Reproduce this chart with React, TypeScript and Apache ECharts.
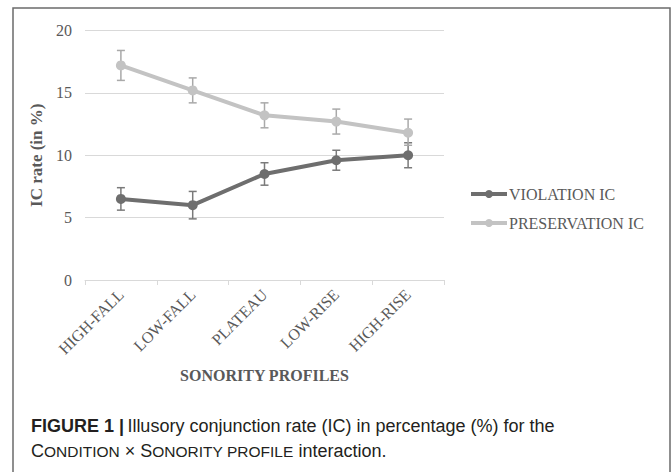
import React, { useEffect, useRef } from "react";
import * as echarts from "echarts";

const categories = ["HIGH-FALL", "LOW-FALL", "PLATEAU", "LOW-RISE", "HIGH-RISE"];
const violation = [6.5, 6.0, 8.5, 9.6, 10.0];
const violationLow = [5.6, 4.9, 7.6, 8.8, 9.0];
const violationHigh = [7.4, 7.1, 9.4, 10.4, 11.0];
const preservation = [17.2, 15.2, 13.2, 12.7, 11.8];
const preservationLow = [16.0, 14.2, 12.2, 11.7, 10.8];
const preservationHigh = [18.4, 16.2, 14.2, 13.7, 12.9];
const yTicks = { min: 0, max: 20, interval: 5 };

const SERIF = "'Liberation Serif', 'Times New Roman', serif";
const SANS = "'Liberation Sans', Arial, sans-serif";

function errorSeries(name: string, lows: number[], highs: number[], color: string) {
  return {
    type: "custom",
    name,
    z: 1,
    silent: true,
    data: lows.map((l, i) => [i, l, highs[i]]),
    encode: { x: 0, y: [1, 2] },
    renderItem: (params: any, api: any) => {
      const x = api.value(0);
      const lo = api.coord([x, api.value(1)]);
      const hi = api.coord([x, api.value(2)]);
      const w = 4;
      const style = { stroke: color, lineWidth: 1.5 };
      return {
        type: "group",
        children: [
          { type: "line", shape: { x1: lo[0], y1: lo[1], x2: hi[0], y2: hi[1] }, style },
          { type: "line", shape: { x1: lo[0] - w, y1: lo[1], x2: lo[0] + w, y2: lo[1] }, style },
          { type: "line", shape: { x1: hi[0] - w, y1: hi[1], x2: hi[0] + w, y2: hi[1] }, style },
        ],
      };
    },
  };
}

export default function App() {
  const ref = useRef<HTMLDivElement>(null);
  useEffect(() => {
    if (!ref.current) return;
    const chart = echarts.init(ref.current, undefined, { renderer: "svg" });
    chart.setOption({
      animation: false,
      backgroundColor: "#ffffff",
      grid: { left: 85, right: 228, top: 30.5, bottom: 192 },
      legend: {
        orient: "vertical",
        left: 469,
        top: 186,
        padding: 0,
        itemWidth: 36,
        itemHeight: 10,
        itemGap: 13,
        lineStyle: { width: 4 },
        data: ["VIOLATION IC", "PRESERVATION IC"],
        textStyle: { fontFamily: SERIF, fontSize: 16, color: "#595959", padding: [0, 0, 0, -3] },
      },
      xAxis: {
        type: "category",
        data: categories,
        boundaryGap: true,
        axisLine: { lineStyle: { color: "#d9d9d9", width: 1 } },
        axisTick: { show: true, length: 5, lineStyle: { color: "#d9d9d9" } },
        axisLabel: {
          rotate: 45,
          margin: 12,
          fontFamily: SERIF,
          fontSize: 16,
          color: "#595959",
        },
        name: "SONORITY PROFILES",
        nameLocation: "middle",
        nameGap: 87,
        nameTextStyle: { fontFamily: SERIF, fontSize: 16, fontWeight: "bold", color: "#595959" },
      },
      yAxis: {
        type: "value",
        min: yTicks.min,
        max: yTicks.max,
        interval: yTicks.interval,
        axisLine: { show: false },
        axisTick: { show: false },
        splitLine: { lineStyle: { color: "#d9d9d9", width: 1 } },
        axisLabel: { margin: 13, fontFamily: SERIF, fontSize: 16, color: "#595959" },
        name: "IC rate (in %)",
        nameLocation: "middle",
        nameGap: 34,
        nameRotate: 90,
        nameTextStyle: { fontFamily: SERIF, fontSize: 17, fontWeight: "bold", color: "#595959" },
      },
      series: [
        errorSeries("violErr", violationLow, violationHigh, "#7a7a7a"),
        errorSeries("presErr", preservationLow, preservationHigh, "#a9a9a9"),
        {
          type: "line",
          name: "VIOLATION IC",
          z: 3,
          data: violation,
          symbol: "circle",
          symbolSize: 10,
          lineStyle: { color: "#6e6e6e", width: 4 },
          itemStyle: { color: "#6e6e6e" },
        },
        {
          type: "line",
          name: "PRESERVATION IC",
          z: 3,
          data: preservation,
          symbol: "circle",
          symbolSize: 10,
          lineStyle: { color: "#c3c3c3", width: 4 },
          itemStyle: { color: "#c3c3c3" },
        },
      ],
      graphic: [
        {
          type: "rect",
          z: -1,
          shape: { x: 13, y: 8, width: 657, height: 500 },
          style: { fill: "none", stroke: "#6b6b6b", lineWidth: 1.5 },
        },
        {
          type: "text",
          left: 31,
          top: 417,
          style: {
            text: "{b|FIGURE 1 |} {r|Illusory conjunction rate (IC) in percentage (%) for the}",
            rich: {
              b: { fontFamily: SANS, fontSize: 18, fontWeight: "bold", fill: "#231f20" },
              r: { fontFamily: SANS, fontSize: 18, fill: "#231f20" },
            },
          },
        },
        {
          type: "text",
          left: 31,
          top: 442,
          style: {
            text: "{r|C}{s|ONDITION}{r| × S}{s|ONORITY PROFILE}{r| interaction.}",
            rich: {
              r: { fontFamily: SANS, fontSize: 18, fill: "#231f20" },
              s: { fontFamily: SANS, fontSize: 15.5, fill: "#231f20" },
            },
          },
        },
      ],
    });
    return () => chart.dispose();
  }, []);
  return (
    <div
      ref={ref}
      style={{ position: "fixed", left: 0, top: 0, width: 672, height: 472, background: "#fff" }}
    />
  );
}
